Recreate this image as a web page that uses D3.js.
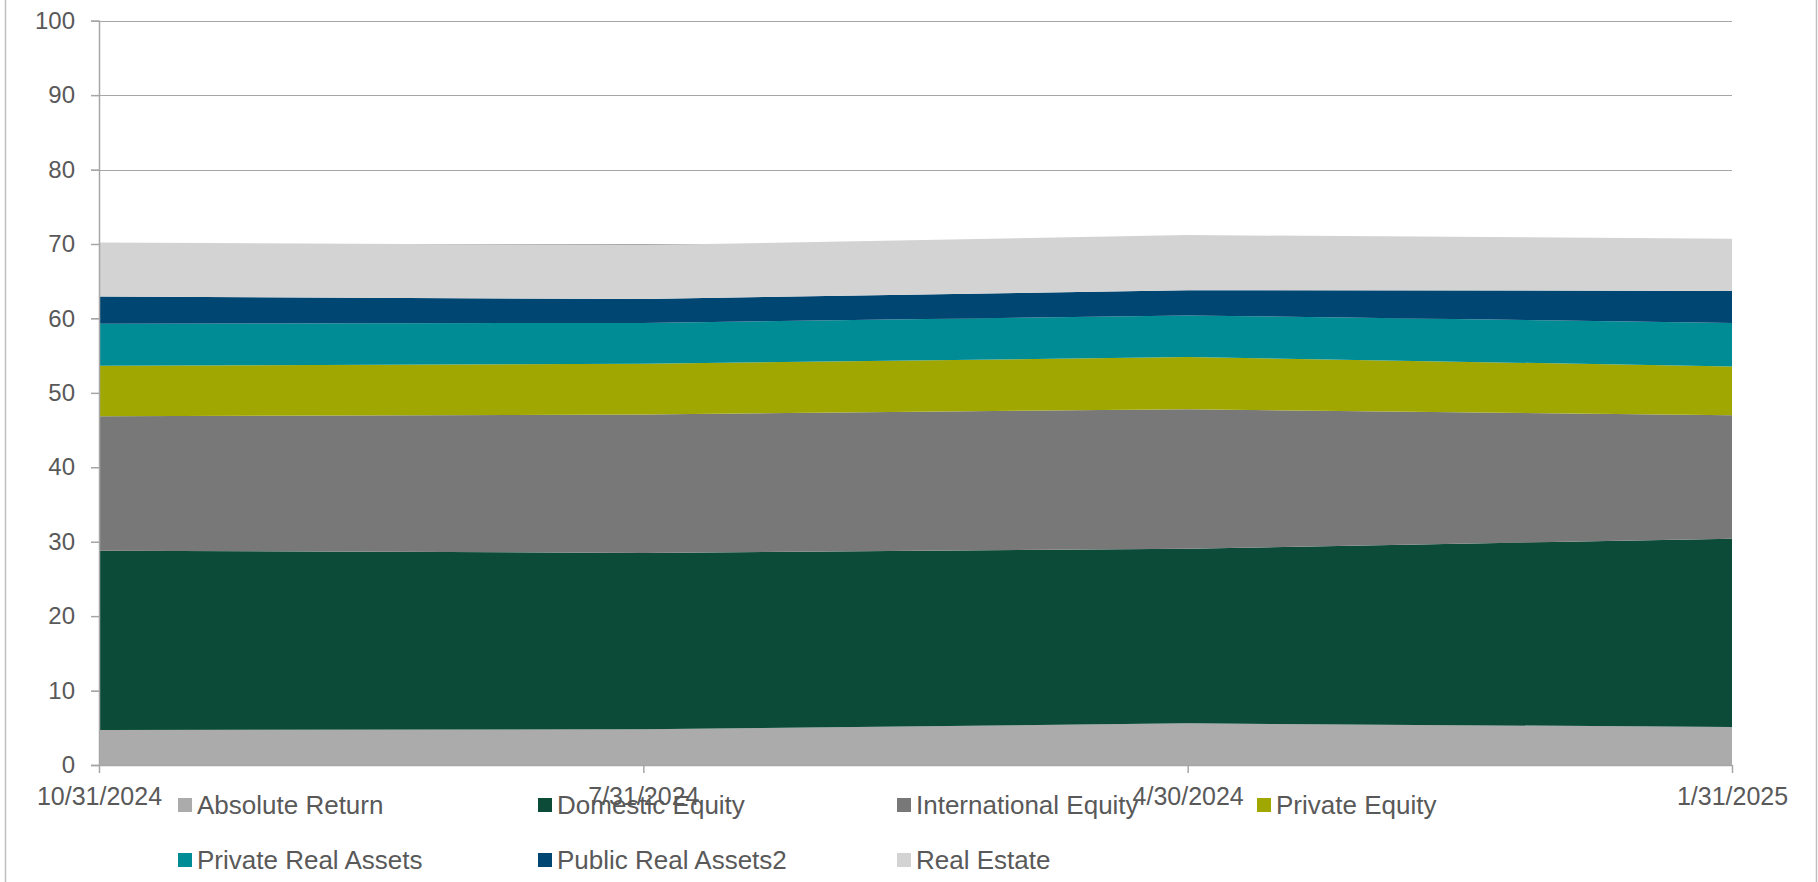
<!DOCTYPE html>
<html>
<head>
<meta charset="utf-8">
<script src="https://cdn.jsdelivr.net/npm/d3@7/dist/d3.min.js"></script>
<style>
  html, body { margin: 0; padding: 0; background: #fff; }
  svg { display: block; font-family: "Liberation Sans", Arial, sans-serif; }
</style>
</head>
<body>
<svg id="chart" width="1818" height="882"></svg>
<script>
// Period labels along the category axis (in display order)
const periods = ["10/31/2024", "7/31/2024", "4/30/2024", "1/31/2025"];

// Allocation (%) by asset class for each period
const absoluteReturn      = [4.7, 4.8, 5.6, 5.1];
const domesticEquity      = [24.1, 23.7, 23.45, 25.3];
const internationalEquity = [18.05, 18.6, 18.75, 16.6];
const privateEquity       = [6.8, 6.8, 7.0, 6.55];
const privateRealAssets   = [5.65, 5.5, 5.6, 5.85];
const publicRealAssets2   = [3.65, 3.2, 3.4, 4.3];
const realEstate          = [7.25, 7.25, 7.4, 7.0];

const seriesNames = ["Absolute Return", "Domestic Equity", "International Equity",
  "Private Equity", "Private Real Assets", "Public Real Assets2", "Real Estate"];
const seriesValues = [absoluteReturn, domesticEquity, internationalEquity,
  privateEquity, privateRealAssets, publicRealAssets2, realEstate];
const seriesColors = ["#ababab", "#0b4b38", "#787878", "#a0a700", "#008c94", "#004672", "#d3d3d3"];

const yTicks = [0, 10, 20, 30, 40, 50, 60, 70, 80, 90, 100];

// Table of rows for d3.stack
const rows = periods.map((p, i) => {
  const r = { period: p };
  seriesNames.forEach((n, k) => { r[n] = seriesValues[k][i]; });
  return r;
});

const svg = d3.select("#chart");
const textColor = "#595959";
const axisColor = "#a6a6a6";

// Outer frame lines
svg.append("line").attr("x1", 5.5).attr("x2", 5.5).attr("y1", 0).attr("y2", 882)
  .attr("stroke", "#bfbfbf").attr("stroke-width", 1.5);
svg.append("line").attr("x1", 1816.5).attr("x2", 1816.5).attr("y1", 0).attr("y2", 882)
  .attr("stroke", "#bfbfbf").attr("stroke-width", 1.5);

const x = d3.scalePoint().domain(periods).range([99, 1732]).padding(0);
const y = d3.scaleLinear().domain([0, 100]).range([765, 20.7]);

// Horizontal gridlines
svg.append("g").selectAll("line").data(yTicks.filter(t => t > 0)).join("line")
  .attr("x1", 91).attr("x2", 1732)
  .attr("y1", d => Math.round(y(d)) + 0.5).attr("y2", d => Math.round(y(d)) + 0.5)
  .attr("stroke", axisColor).attr("stroke-width", 1.2);

// Stacked areas
const stack = d3.stack().keys(seriesNames);
const layers = stack(rows);
const area = d3.area()
  .x(d => x(d.data.period))
  .y0(d => y(d[0]))
  .y1(d => y(d[1]));

svg.append("g").selectAll("path").data(layers).join("path")
  .attr("d", area)
  .attr("fill", (d, i) => seriesColors[i]);

// Y axis
const yAxis = d3.axisLeft(y).tickValues(yTicks).tickSize(8).tickPadding(16);
const gy = svg.append("g").attr("transform", "translate(99,0)").call(yAxis);
gy.select(".domain").attr("stroke", axisColor).attr("stroke-width", 1.5);
gy.selectAll(".tick line").attr("stroke", axisColor).attr("stroke-width", 1.5);
gy.selectAll(".tick text").attr("fill", textColor).style("font-size", "24px")
  .style("font-family", "'Liberation Sans', Arial, sans-serif");

// X axis
const xAxis = d3.axisBottom(x).tickSize(8).tickSizeOuter(0).tickPadding(14);
const gx = svg.append("g").attr("transform", "translate(0,765)").call(xAxis);
gx.select(".domain").attr("stroke", axisColor).attr("stroke-width", 1.5);
gx.selectAll(".tick line").attr("stroke", axisColor).attr("stroke-width", 1.5);
gx.selectAll(".tick text").attr("fill", textColor).style("font-size", "25px")
  .style("font-family", "'Liberation Sans', Arial, sans-serif");

// Legend: four columns, two rows
const legendCols = [178, 538, 897, 1257];
const legendRows = [805, 860];
const legend = svg.append("g").selectAll("g").data(seriesNames).join("g")
  .attr("transform", (d, i) => `translate(${legendCols[i % 4]},${legendRows[Math.floor(i / 4)]})`);
legend.append("rect").attr("x", 0).attr("y", -7).attr("width", 14).attr("height", 14)
  .attr("fill", (d, i) => seriesColors[i]);
legend.append("text").attr("x", 19).attr("y", 9)
  .attr("fill", textColor).style("font-size", "26px")
  .text(d => d);
</script>
</body>
</html>
